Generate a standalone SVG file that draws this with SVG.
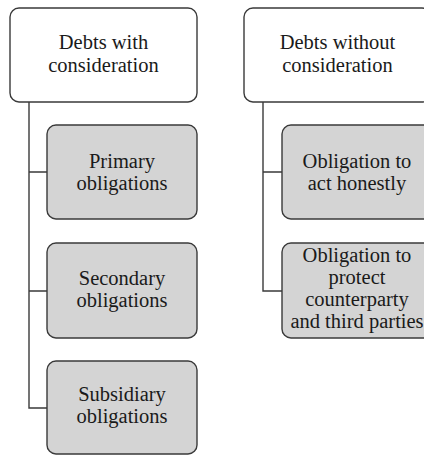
<svg xmlns="http://www.w3.org/2000/svg" width="424" height="455" viewBox="0 0 424 455">
<style>
.top{fill:#ffffff;stroke:#3a3a3a;stroke-width:1.4}
.child{fill:#d4d4d4;stroke:#3a3a3a;stroke-width:1.4}
.conn{fill:none;stroke:#3a3a3a;stroke-width:1.4}
.lbl{font-family:'Liberation Serif','Times New Roman',serif;font-size:20.5px;fill:#1a1a1a;text-anchor:middle}
</style>
<rect width="424" height="455" fill="#ffffff"/>
<g id="connectors">
<path class="conn" d="M29 102 V408 H47 M29 172 H47 M29 291 H47"/>
<path class="conn" d="M263 102 V291 H282 M263 172 H282"/>
</g>
<g id="debts-with">
<rect class="top" x="10" y="8" width="187" height="94" rx="9"/>
<text class="lbl" x="103.5" y="49">Debts with</text>
<text class="lbl" x="103.5" y="72">consideration</text>
</g>
<g id="primary">
<rect class="child" x="47" y="125" width="150" height="94" rx="9"/>
<text class="lbl" x="122" y="168">Primary</text>
<text class="lbl" x="122" y="190">obligations</text>
</g>
<g id="secondary">
<rect class="child" x="47" y="243" width="150" height="95" rx="9"/>
<text class="lbl" x="122" y="285">Secondary</text>
<text class="lbl" x="122" y="307">obligations</text>
</g>
<g id="subsidiary">
<rect class="child" x="47" y="361" width="150" height="93" rx="9"/>
<text class="lbl" x="122" y="401">Subsidiary</text>
<text class="lbl" x="122" y="423">obligations</text>
</g>
<g id="debts-without">
<rect class="top" x="244" y="8" width="187" height="94" rx="9"/>
<text class="lbl" x="337.5" y="49">Debts without</text>
<text class="lbl" x="337.5" y="72">consideration</text>
</g>
<g id="act-honestly">
<rect class="child" x="282" y="125" width="150" height="94" rx="9"/>
<text class="lbl" x="357" y="168">Obligation to</text>
<text class="lbl" x="357" y="190">act honestly</text>
</g>
<g id="protect">
<rect class="child" x="282" y="243" width="150" height="95" rx="9"/>
<text class="lbl" x="357" y="262">Obligation to</text>
<text class="lbl" x="357" y="284">protect</text>
<text class="lbl" x="357" y="306">counterparty</text>
<text class="lbl" x="357" y="328">and third parties</text>
</g>
</svg>
